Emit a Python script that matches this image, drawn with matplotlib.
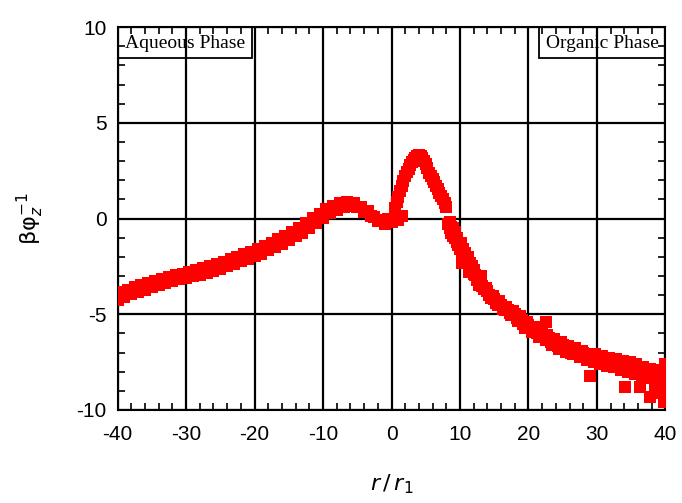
import matplotlib
matplotlib.use("Agg")
import matplotlib.pyplot as plt
from matplotlib.patches import Rectangle
from matplotlib.ticker import MultipleLocator

plt.rcParams['axes.unicode_minus'] = False

# aqueous side, r/r1 from -40 to 1.5
aq_x = [-40.0, -39.5, -39.0, -38.5, -38.0, -37.5, -37.0, -36.5, -36.0, -35.5,
        -35.0, -34.5, -34.0, -33.5, -33.0, -32.5, -32.0, -31.5, -31.0, -30.5,
        -30.0, -29.5, -29.0, -28.5, -28.0, -27.5, -27.0, -26.5, -26.0, -25.5,
        -25.0, -24.5, -24.0, -23.5, -23.0, -22.5, -22.0, -21.5, -21.0, -20.5,
        -20.0, -19.5, -19.0, -18.5, -18.0, -17.5, -17.0, -16.5, -16.0, -15.5,
        -15.0, -14.5, -14.0, -13.5, -13.0, -12.5, -12.0, -11.5, -11.0, -10.5,
        -10.0, -9.5, -9.0, -8.5, -8.0, -7.5, -7.0, -6.5, -6.0, -5.5,
        -5.0, -4.5, -4.0, -3.5, -3.0, -2.5, -2.0, -1.5, -1.0, -0.5,
        0.0, 0.5, 1.0, 1.5]
aq_y = [-4.25, -3.85, -4.10, -3.72, -3.92, -3.58, -3.82, -3.48, -3.72, -3.38,
        -3.58, -3.25, -3.48, -3.15, -3.38, -3.05, -3.28, -2.95, -3.18, -2.87,
        -3.08, -2.79, -3.01, -2.69, -2.93, -2.59, -2.83, -2.47, -2.73, -2.37,
        -2.61, -2.25, -2.48, -2.13, -2.35, -1.99, -2.23, -1.87, -2.09, -1.75,
        -1.98, -1.61, -1.83, -1.43, -1.65, -1.25, -1.48, -1.07, -1.31, -0.89,
        -1.11, -0.69, -0.93, -0.47, -0.73, -0.23, -0.48, 0.01, -0.23, 0.25,
        0.02, 0.48, 0.27, 0.65, 0.45, 0.81, 0.59, 0.88, 0.65, 0.83,
        0.59, 0.63, 0.37, 0.38, 0.12, 0.08, -0.15, -0.07, -0.28, -0.02,
        -0.18, 0.08, -0.05, 0.12]

# organic side
org_x = [0.5, 0.75, 1.0, 1.25, 1.5, 1.75, 2.0, 2.25, 2.5, 2.75,
         3.0, 3.25, 3.5, 3.75, 4.0, 4.25, 4.5, 4.75, 5.0, 5.25,
         5.5, 5.75, 6.0, 6.25, 6.5, 6.75, 7.0, 7.25, 7.5, 7.75,
         8.0, 8.25, 8.5, 8.75, 9.0, 9.25, 9.5, 9.75, 10.0, 10.25,
         10.5, 10.75, 11.0, 11.25, 11.5, 11.75, 12.0, 12.5, 13.0, 13.5,
         14.0, 14.5, 15.0, 15.5, 16.0, 16.5, 17.0, 17.5, 18.0, 18.5,
         19.0, 19.5, 20.0, 20.5, 21.0, 21.5, 22.0, 22.5, 23.0, 23.5,
         24.0, 24.5, 25.0, 25.5, 26.0, 26.5, 27.0, 27.5, 28.0, 28.5,
         29.0, 29.5, 30.0, 30.5, 31.0, 31.5, 32.0, 32.5, 33.0, 33.5,
         34.0, 34.5, 35.0, 35.5, 36.0, 36.5, 37.0, 37.5, 38.0, 38.5,
         39.0, 39.5, 40.0]
org_y = [0.55, 0.85, 1.15, 1.45, 1.70, 1.95, 2.20, 2.45, 2.60, 2.80,
         2.95, 3.05, 3.15, 3.25, 3.30, 3.25, 3.15, 3.00, 2.85, 2.65,
         2.40, 2.20, 2.05, 1.90, 1.70, 1.55, 1.35, 1.20, 1.00, 0.80,
         0.60, -0.30, -0.50, -0.75, -0.90, -1.00, -1.20, -1.40, -1.60, -1.75,
         -1.95, -2.10, -2.25, -2.45, -2.60, -2.80, -2.90, -3.20, -3.35, -3.70,
         -3.80, -4.15, -4.20, -4.50, -4.50, -4.80, -4.75, -5.05, -5.00, -5.35,
         -5.30, -5.70, -5.55, -5.90, -5.80, -6.20, -6.00, -6.35, -6.25, -6.60,
         -6.45, -6.80, -6.60, -6.95, -6.80, -7.10, -6.90, -7.25, -7.00, -7.40,
         -7.15, -7.50, -7.25, -7.60, -7.35, -7.70, -7.40, -7.75, -7.50, -7.90,
         -7.55, -8.00, -7.70, -8.10, -7.80, -8.20, -7.90, -8.35, -8.00, -8.50,
         -8.10, -8.70, -8.20]

# second row of the noisy organic tail
tail_x = [12.25, 12.75, 13.25, 13.75, 14.25, 14.75, 15.25, 15.75, 16.25, 16.75,
          17.25, 17.75, 18.25, 18.75, 19.25, 19.75, 20.25, 20.75, 21.25, 21.75,
          22.25, 22.75, 23.25, 23.75, 24.25, 24.75, 25.25, 25.75, 26.25, 26.75,
          27.25, 27.75, 28.25, 28.75, 29.25, 29.75, 30.25, 30.75, 31.25, 31.75,
          32.25, 32.75, 33.25, 33.75, 34.25, 34.75, 35.25, 35.75, 36.25, 36.75,
          37.25, 37.75, 38.25, 38.75, 39.25, 39.75]
tail_y = [-2.95, -3.45, -3.50, -3.60, -4.00, -4.05, -4.40, -4.30, -4.70, -4.60,
          -4.95, -4.85, -5.20, -5.10, -5.50, -5.40, -5.70, -5.65, -6.00, -5.90,
          -6.20, -6.10, -6.45, -6.30, -6.65, -6.45, -6.80, -6.65, -7.00, -6.75,
          -7.10, -6.90, -7.20, -7.05, -7.35, -7.10, -7.45, -7.20, -7.55, -7.30,
          -7.60, -7.35, -7.70, -7.45, -7.80, -7.50, -7.95, -7.60, -8.05, -7.75,
          -8.20, -7.85, -8.30, -7.90, -8.50, -8.00]

# scattered points off the main band
extra_x = [8.5, 8.75, 9.25, 9.6, 10.1, 10.4, 10.7, 11.1, 11.4, 11.7, 12.1, 10.3, 11.3,
           22.6, 29.0, 34.1, 36.3, 37.7, 39.2, 39.8, 38.5, 40.0, 13.0, 9.0]
extra_y = [-0.2, -0.45, -0.7, -1.0, -1.3, -1.6, -1.8, -2.0, -2.3, -2.5, -2.7, -2.3, -2.8,
           -5.40, -8.20, -8.80, -8.80, -9.30, -9.10, -9.60, -9.00, -7.60, -3.00, -0.50]


def draw():
    fig = plt.figure(figsize=(6.82, 5.03), dpi=100)
    ax = fig.add_axes([0.1723, 0.1849, 0.8035, 0.761])

    for xs, ys in [(aq_x, aq_y), (org_x, org_y), (tail_x, tail_y), (extra_x, extra_y)]:
        ax.scatter(xs, ys, s=64, marker='s', c='#ff0000', linewidths=0, zorder=3)

    ax.set_xlim(-40, 40)
    ax.set_ylim(-10, 10)
    ax.xaxis.set_major_locator(MultipleLocator(10))
    ax.xaxis.set_minor_locator(MultipleLocator(2))
    ax.yaxis.set_major_locator(MultipleLocator(5))
    ax.yaxis.set_minor_locator(MultipleLocator(1))
    ax.grid(True, which='major', color='black', linewidth=1.6)
    ax.tick_params(which='both', direction='in', top=True, right=True,
                   color='black', labelsize=15)
    ax.tick_params(which='major', length=0, pad=8)
    ax.tick_params(axis='x', which='major', pad=11)
    ax.tick_params(which='minor', length=5, width=1.2)
    for lab in ax.get_xticklabels() + ax.get_yticklabels():
        lab.set_family('Liberation Sans')
    for sp in ax.spines.values():
        sp.set_linewidth(1.5)

    ax.set_xlabel(r'$r\,/\,r_1$', fontsize=16, labelpad=20)
    ax.set_ylabel(r'βφ$_z^{-1}$', fontsize=16, labelpad=22)

    # phase boxes in the top corners
    ax.add_patch(Rectangle((0, 0.9195), 0.2454, 0.0805, transform=ax.transAxes,
                           fill=False, edgecolor='black', linewidth=1.3, zorder=4))
    ax.add_patch(Rectangle((0.7697, 0.9195), 0.2303, 0.0805, transform=ax.transAxes,
                           fill=False, edgecolor='black', linewidth=1.3, zorder=4))
    ax.text(0.1227, 0.958, 'Aqueous Phase', transform=ax.transAxes, ha='center',
            va='center', family='Liberation Serif', fontsize=14, zorder=5)
    ax.text(0.8848, 0.958, 'Organic Phase', transform=ax.transAxes, ha='center',
            va='center', family='Liberation Serif', fontsize=14, zorder=5)

    plt.savefig('out.png', dpi=100)


if __name__ == "__main__":
    draw()
